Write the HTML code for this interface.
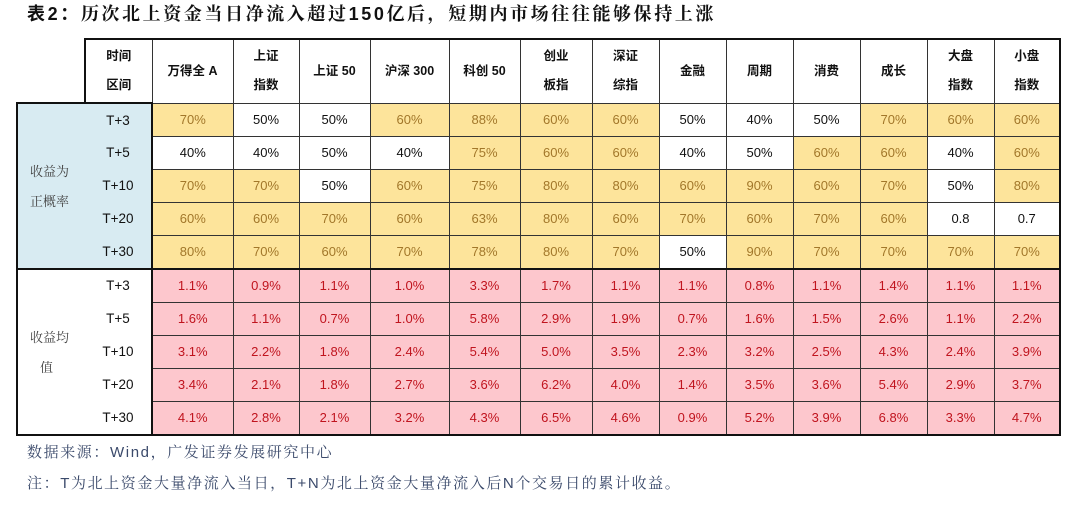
<!DOCTYPE html>
<html><head><meta charset="utf-8"><style>
body{margin:0;width:1080px;height:508px;background:#fff;position:relative;overflow:hidden;font-family:"Liberation Sans","Noto Sans CJK SC",sans-serif}
.title{position:absolute;left:27px;top:0px;font-size:18px;font-weight:bold;color:#111;letter-spacing:2.6px;white-space:nowrap}
.title span{font-weight:normal;font-family:"Liberation Sans","Noto Serif CJK SC",serif;font-weight:bold}
table{position:absolute;left:16px;top:38px;border-collapse:collapse;table-layout:fixed;width:1043px}
td{border:1px solid #333;text-align:center;font-size:13px;padding:0;height:32px;color:#111}
tr.h td{height:62px;font-weight:bold;font-size:12.5px;line-height:29px;border-top:2px solid #111}
tr.h td.e{border:none;border-right:2px solid #111}
td.y{background:#fde49b;color:#a2772a}
td.p{background:#fdc7cd;color:#c0141e}
td.b{background:#d8ebf2}
td.t{font-size:13.5px}
td.lab{font-family:"Noto Serif CJK SC",serif;font-size:13px;color:#444;text-align:left;padding-left:12px;line-height:30px;border-left:2px solid #111;border-right:none}
td.t{border-left:none;border-right:2px solid #111;border-top:none;border-bottom:none}
tr.s td{border-top:2px solid #111}
tr.last td{border-bottom:2px solid #111}
td:last-child{border-right:2px solid #111}
.f{position:absolute;left:27px;font-size:15px;color:#3b4a6b;letter-spacing:1.6px;font-family:"Liberation Sans","Noto Serif CJK SC",serif;white-space:nowrap}
</style></head><body>
<div class="title">表2：<span>历次北上资金当日净流入超过150亿后，短期内市场往往能够保持上涨</span></div>
<table>
<colgroup><col style="width:68px"><col style="width:67px"><col style="width:81px"><col style="width:66px"><col style="width:71px"><col style="width:79px"><col style="width:71px"><col style="width:72px"><col style="width:67px"><col style="width:67px"><col style="width:67px"><col style="width:67px"><col style="width:67px"><col style="width:67px"><col style="width:66px"></colgroup>
<tr class="h"><td class="e"></td><td>时间<br>区间</td><td>万得全 A</td><td>上证<br>指数</td><td>上证 50</td><td>沪深 300</td><td>科创 50</td><td>创业<br>板指</td><td>深证<br>综指</td><td>金融</td><td>周期</td><td>消费</td><td>成长</td><td>大盘<br>指数</td><td>小盘<br>指数</td></tr>
<tr><td class="b lab" rowspan="5" style="border-top:2px solid #111;border-bottom:2px solid #111">收益为<br>正概率</td><td class="b t" style="border-top:2px solid #111">T+3</td><td class="y">70%</td><td>50%</td><td>50%</td><td class="y">60%</td><td class="y">88%</td><td class="y">60%</td><td class="y">60%</td><td>50%</td><td>40%</td><td>50%</td><td class="y">70%</td><td class="y">60%</td><td class="y">60%</td></tr>
<tr><td class="b t">T+5</td><td>40%</td><td>40%</td><td>50%</td><td>40%</td><td class="y">75%</td><td class="y">60%</td><td class="y">60%</td><td>40%</td><td>50%</td><td class="y">60%</td><td class="y">60%</td><td>40%</td><td class="y">60%</td></tr>
<tr><td class="b t">T+10</td><td class="y">70%</td><td class="y">70%</td><td>50%</td><td class="y">60%</td><td class="y">75%</td><td class="y">80%</td><td class="y">80%</td><td class="y">60%</td><td class="y">90%</td><td class="y">60%</td><td class="y">70%</td><td>50%</td><td class="y">80%</td></tr>
<tr><td class="b t">T+20</td><td class="y">60%</td><td class="y">60%</td><td class="y">70%</td><td class="y">60%</td><td class="y">63%</td><td class="y">80%</td><td class="y">60%</td><td class="y">70%</td><td class="y">60%</td><td class="y">70%</td><td class="y">60%</td><td>0.8</td><td>0.7</td></tr>
<tr><td class="b t">T+30</td><td class="y">80%</td><td class="y">70%</td><td class="y">60%</td><td class="y">70%</td><td class="y">78%</td><td class="y">80%</td><td class="y">70%</td><td>50%</td><td class="y">90%</td><td class="y">70%</td><td class="y">70%</td><td class="y">70%</td><td class="y">70%</td></tr>
<tr class="s"><td class="lab" rowspan="5" style="border-bottom:2px solid #111">收益均<br>&nbsp;&nbsp;&nbsp;值</td><td class="t" style="border-top:2px solid #111">T+3</td><td class="p">1.1%</td><td class="p">0.9%</td><td class="p">1.1%</td><td class="p">1.0%</td><td class="p">3.3%</td><td class="p">1.7%</td><td class="p">1.1%</td><td class="p">1.1%</td><td class="p">0.8%</td><td class="p">1.1%</td><td class="p">1.4%</td><td class="p">1.1%</td><td class="p">1.1%</td></tr>
<tr><td class="t">T+5</td><td class="p">1.6%</td><td class="p">1.1%</td><td class="p">0.7%</td><td class="p">1.0%</td><td class="p">5.8%</td><td class="p">2.9%</td><td class="p">1.9%</td><td class="p">0.7%</td><td class="p">1.6%</td><td class="p">1.5%</td><td class="p">2.6%</td><td class="p">1.1%</td><td class="p">2.2%</td></tr>
<tr><td class="t">T+10</td><td class="p">3.1%</td><td class="p">2.2%</td><td class="p">1.8%</td><td class="p">2.4%</td><td class="p">5.4%</td><td class="p">5.0%</td><td class="p">3.5%</td><td class="p">2.3%</td><td class="p">3.2%</td><td class="p">2.5%</td><td class="p">4.3%</td><td class="p">2.4%</td><td class="p">3.9%</td></tr>
<tr><td class="t">T+20</td><td class="p">3.4%</td><td class="p">2.1%</td><td class="p">1.8%</td><td class="p">2.7%</td><td class="p">3.6%</td><td class="p">6.2%</td><td class="p">4.0%</td><td class="p">1.4%</td><td class="p">3.5%</td><td class="p">3.6%</td><td class="p">5.4%</td><td class="p">2.9%</td><td class="p">3.7%</td></tr>
<tr class="last"><td class="t" style="border-bottom:2px solid #111">T+30</td><td class="p">4.1%</td><td class="p">2.8%</td><td class="p">2.1%</td><td class="p">3.2%</td><td class="p">4.3%</td><td class="p">6.5%</td><td class="p">4.6%</td><td class="p">0.9%</td><td class="p">5.2%</td><td class="p">3.9%</td><td class="p">6.8%</td><td class="p">3.3%</td><td class="p">4.7%</td></tr>
</table>
<div class="f" style="top:441px">数据来源：Wind，广发证券发展研究中心</div>
<div class="f" style="top:472px">注：T为北上资金大量净流入当日，T+N为北上资金大量净流入后N个交易日的累计收益。</div>
</body></html>
